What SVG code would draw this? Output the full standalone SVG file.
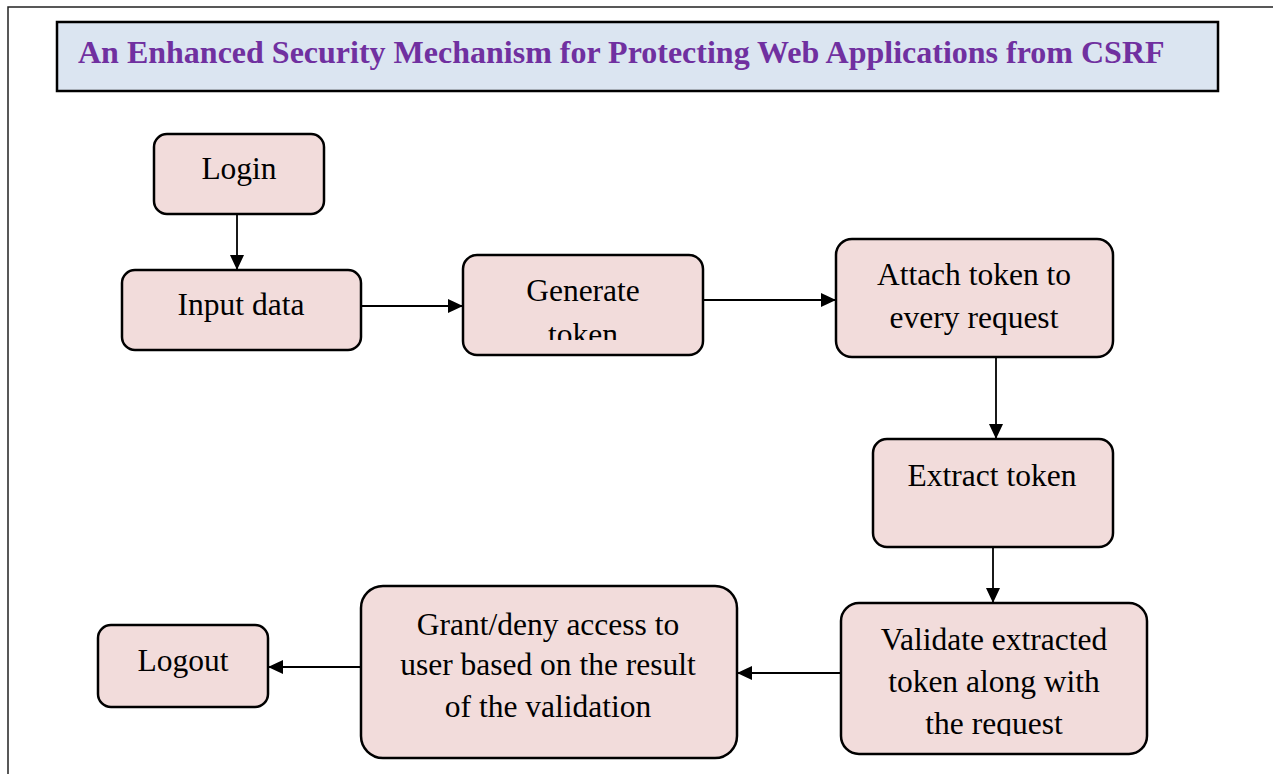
<svg xmlns="http://www.w3.org/2000/svg" width="1273" height="774" viewBox="0 0 1273 774">
<style>
.node{fill:#f2dcdb;stroke:#000;stroke-width:2.5}
.t{font-family:"Liberation Serif","Times New Roman",serif;font-size:31.5px;fill:#000;text-anchor:middle}
.edge{stroke:#000;stroke-width:1.8;fill:none}
</style>
<defs>
<marker id="arr" viewBox="0 0 15 14" refX="15" refY="7" markerWidth="15" markerHeight="14" markerUnits="userSpaceOnUse" orient="auto">
<path d="M0,0 L15,7 L0,14 Z" fill="#000"/>
</marker>
<clipPath id="cGen"><rect x="463" y="255" width="240" height="85"/></clipPath>
<clipPath id="cVal"><rect x="841" y="603" width="306" height="133"/></clipPath>
</defs>
<rect width="1273" height="774" fill="#fff"/>
<path d="M8,774 V7 H1273" stroke="#222" stroke-width="1.5" fill="none"/>
<g id="title">
<rect x="57" y="22" width="1161" height="69" fill="#dbe5f1" stroke="#000" stroke-width="2.5"/>
<text x="78" y="63" font-family="Liberation Serif,'Times New Roman',serif" font-size="32" font-weight="bold" fill="#7030a0">An Enhanced Security Mechanism for Protecting Web Applications from CSRF</text>
</g>
<g id="connectors">
<line class="edge" x1="237" y1="214" x2="237" y2="270" marker-end="url(#arr)"/>
<line class="edge" x1="361" y1="306" x2="463" y2="306" marker-end="url(#arr)"/>
<line class="edge" x1="703" y1="300" x2="836" y2="300" marker-end="url(#arr)"/>
<line class="edge" x1="996" y1="357" x2="996" y2="439" marker-end="url(#arr)"/>
<line class="edge" x1="993" y1="547" x2="993" y2="603" marker-end="url(#arr)"/>
<line class="edge" x1="841" y1="673" x2="737" y2="673" marker-end="url(#arr)"/>
<line class="edge" x1="361" y1="667" x2="268" y2="667" marker-end="url(#arr)"/>
</g>
<g id="login">
<rect class="node" x="154" y="134" width="170" height="80" rx="13"/>
<text class="t" x="239" y="179">Login</text>
</g>
<g id="input">
<rect class="node" x="122" y="270" width="239" height="80" rx="13"/>
<text class="t" x="241" y="315">Input data</text>
</g>
<g id="generate">
<rect class="node" x="463" y="255" width="240" height="100" rx="14"/>
<g clip-path="url(#cGen)">
<text class="t" x="583" y="301">Generate</text>
<text class="t" x="583" y="345">token</text>
</g>
</g>
<g id="attach">
<rect class="node" x="836" y="239" width="277" height="118" rx="16"/>
<text class="t" x="974" y="285">Attach token to</text>
<text class="t" x="974" y="328">every request</text>
</g>
<g id="extract">
<rect class="node" x="873" y="439" width="240" height="108" rx="14"/>
<text class="t" x="992" y="486">Extract token</text>
</g>
<g id="validate">
<rect class="node" x="841" y="603" width="306" height="151" rx="18"/>
<g clip-path="url(#cVal)">
<text class="t" x="994" y="650">Validate extracted</text>
<text class="t" x="994" y="692">token along with</text>
<text class="t" x="994" y="734">the request</text>
</g>
</g>
<g id="grant">
<rect class="node" x="361" y="586" width="376" height="172" rx="22"/>
<text class="t" x="548" y="635">Grant/deny access to</text>
<text class="t" x="548" y="675">user based on the result</text>
<text class="t" x="548" y="717">of the validation</text>
</g>
<g id="logout">
<rect class="node" x="98" y="625" width="170" height="82" rx="13"/>
<text class="t" x="183" y="671">Logout</text>
</g>
</svg>
